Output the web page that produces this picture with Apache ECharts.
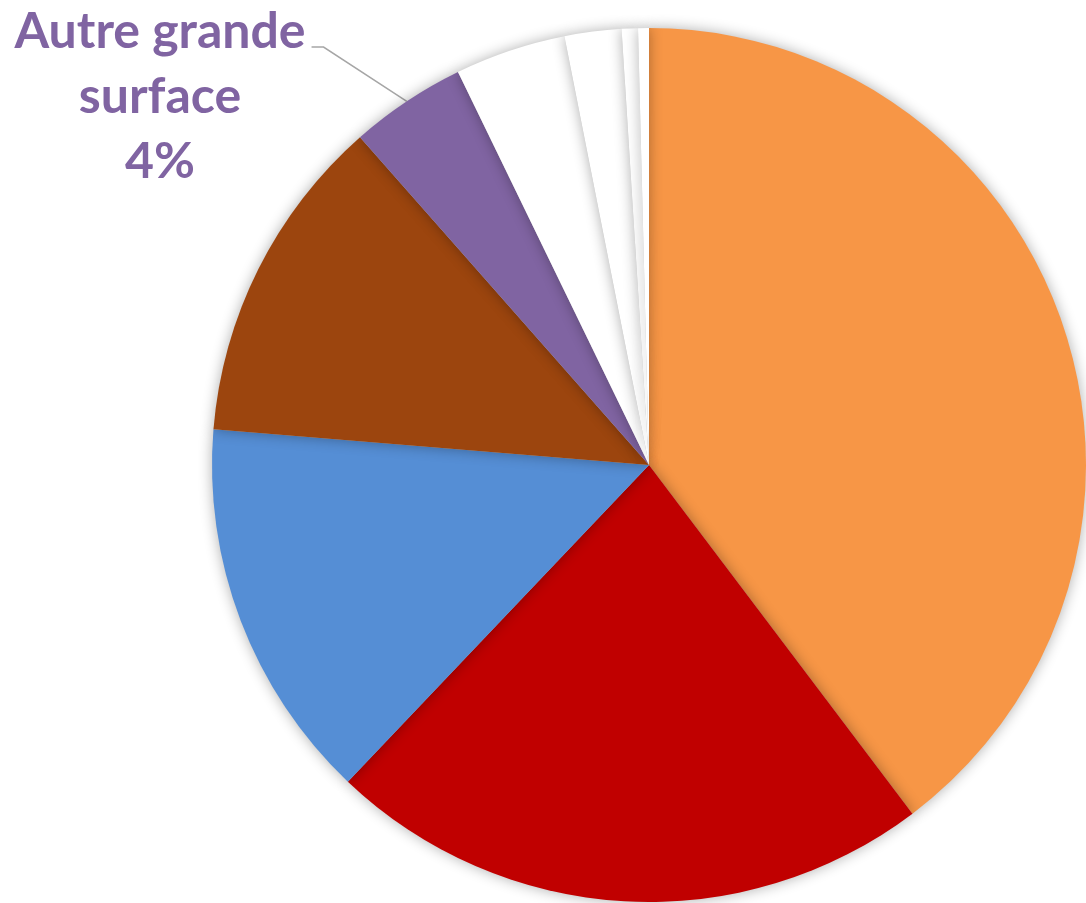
<!DOCTYPE html>
<html>
<head>
<meta charset="utf-8">
<script src="https://cdn.jsdelivr.net/npm/echarts@6/dist/echarts.min.js"></script>
<style>
  html, body { margin: 0; padding: 0; background: #fff; }
  #chart { width: 1086px; height: 903px; }
</style>
</head>
<body>
<div id="chart"></div>
<script>
// Share of purchases by store type (percent)
const categories = [
  'Hypermarché', 'Supermarché', 'Hard discount', 'Proximité',
  'Autre grande surface', 'Marché', 'Internet', 'Drive', 'Autre'
];
const values = [39.7, 22.4, 14.2, 12.2, 4.3, 4.1, 2.1, 0.6, 0.4];
const colors = [
  '#F79646', '#C00000', '#558ED5', '#9C450E',
  '#8064A2', '#FFFFFF', '#FFFFFF', '#FFFFFF', '#FFFFFF'
];
// Only this slice carries a visible label
const labelledSlice = 'Autre grande surface';

const LABEL_X = 160, LABEL_Y = 97, LINE_H = 65;

const chart = echarts.init(document.getElementById('chart'));
chart.setOption({
  animation: false,
  backgroundColor: '#ffffff',
  series: [{
    type: 'pie',
    center: [649, 465],
    radius: 437,
    startAngle: 90,
    clockwise: true,
    avoidLabelOverlap: false,
    data: categories.map((name, i) => ({
      name,
      value: values[i],
      itemStyle: { color: colors[i] },
      label: { show: name === labelledSlice },
      labelLine: { show: name === labelledSlice }
    })),
    itemStyle: {
      borderWidth: 0,
      shadowBlur: 14,
      shadowColor: 'rgba(0,0,0,0.32)'
    },
    label: {
      position: 'outside',
      formatter: p => p.name.replace(' surface', '\nsurface') + '\n' + Math.round(p.percent) + '%',
      color: '#8064A2',
      fontFamily: 'Lato, "Open Sans", sans-serif',
      fontWeight: 'bold',
      fontSize: 50,
      lineHeight: LINE_H,
      align: 'center'
    },
    labelLine: {
      lineStyle: { color: '#A6A6A6', width: 1.5 },
      length: 10,
      length2: 10
    },
    labelLayout: params => {
      if (params.text && params.text.indexOf('Autre grande') === 0 && params.labelLinePoints) {
        const start = params.labelLinePoints[0];
        const right = LABEL_X + params.labelRect.width / 2 + 6;
        const yAttach = LABEL_Y - LINE_H + 15;
        return {
          x: LABEL_X, y: LABEL_Y, align: 'center', verticalAlign: 'middle',
          labelLinePoints: [start, [right + 12, yAttach], [right, yAttach]]
        };
      }
      return {};
    }
  }]
});
</script>
</body>
</html>
